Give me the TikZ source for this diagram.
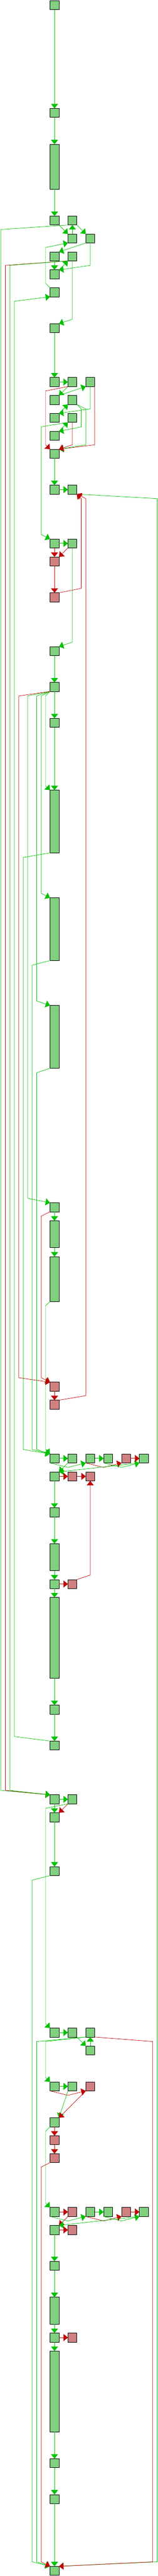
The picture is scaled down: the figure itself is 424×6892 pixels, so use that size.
\documentclass[tikz,border=0pt]{standalone}
\usepackage{tikz}
\usetikzlibrary{arrows.meta}
\usetikzlibrary{calc}
\definecolor{CFG_gruen_1}{HTML}{00C000}
\definecolor{CFG_gruen_5}{HTML}{80D080}
\definecolor{CFG_rot_1}{HTML}{C00000}
\definecolor{CFG_rot_5}{HTML}{D08080}

\begin{document}
\begin{tikzpicture}[x=1pt, y=-1pt, >={Triangle[width=19pt,length=12pt]},
gblock/.style={draw, rectangle, line width=1pt, fill=CFG_gruen_5, minimum width=24pt, minimum height=24pt, inner sep=0pt, outer sep=0pt},
rblock/.style={gblock, fill=CFG_rot_5},
gflow/.style={->, line width=1pt, CFG_gruen_1},
rflow/.style={->, line width=1pt, CFG_rot_1}]
%\draw[step=48pt, very thin, red] (0,0) grid (424,6892);
\useasboundingbox (0,0) rectangle (424,6892);

\node[gblock] (bb0_0) at (146.5,14) {};
\node[gblock] (bb6_0) at (146.5,14+48*6) {};
\node[gblock, minimum height=120pt] (bb8_0) at (146.5,14+48*9) {};
\node[gblock] (bb12_0) at (146.5,14+48*12) {};
\node[gblock] (bb12_1) at (146.5+48,14+48*12) {};
\node[gblock] (bb13_1) at (146.5+48,14+48*13) {};
\node[gblock] (bb13_2) at (146.5+48*2,14+48*13) {};
\node[gblock] (bb14_0) at (146.5,14+48*14) {};
\node[gblock] (bb14_1) at (146.5+48,14+48*14) {};
\node[gblock] (bb15_0) at (146.5,14+48*15) {};
\node[gblock] (bb16_0) at (146.5,14+48*16) {};
\node[gblock] (bb18_0) at (146.5,14+48*18) {};

\node[gblock] (bb21_0) at (146.5,14+48*21) {};
\node[gblock] (bb21_1) at (146.5+48,14+48*21) {};
\node[gblock] (bb21_2) at (146.5+48*2,14+48*21) {};
\node[gblock] (bb22_0) at (146.5,14+48*22) {};
\node[gblock] (bb22_1) at (146.5+48,14+48*22) {};
\node[gblock] (bb23_0) at (146.5,14+48*23) {};
\node[gblock] (bb23_1) at (146.5+48,14+48*23) {};
\node[gblock] (bb24_0) at (146.5,14+48*24) {};
\node[gblock] (bb25_0) at (146.5,14+48*25) {};
\node[gblock] (bb27_0) at (146.5,14+48*27) {};
\node[gblock] (bb27_1) at (146.5+48,14+48*27) {};
\node[gblock] (bb30_0) at (146.5,14+48*30) {};
\node[gblock] (bb30_1) at (146.5+48,14+48*30) {};
\node[rblock] (bb31_0) at (146.5,14+48*31) {};
\node[rblock] (bb33_0) at (146.5,14+48*33) {};
\node[gblock] (bb36_0) at (146.5,14+48*36) {};
\node[gblock] (bb38_0) at (146.5,14+48*38) {};
\node[gblock] (bb40_0) at (146.5,14+48*40) {};

\node[gblock, minimum height=168pt] (bb44_0) at (146.5,14+48*45.5) {};
\node[gblock, minimum height=168pt] (bb50_0) at (146.5,14+48*51.5) {};
\node[gblock, minimum height=168pt] (bb56_0) at (146.5,14+48*57.5) {};
\node[gblock] (bb67_0) at (146.5,14+48*67) {};
\node[gblock, minimum height=72pt] (bb68_0) at (146.5,14+48*68.5) {};
\node[gblock, minimum height=120pt] (bb70_0) at (146.5,14+48*71) {};
\node[rblock] (bb77_0) at (146.5,14+48*77) {};
\node[rblock] (bb78_0) at (146.5,14+48*78) {};

\node[gblock] (bb81_0) at (146.5,14+48*81) {};
\node[gblock] (bb81_1) at (146.5+48,14+48*81) {};
\node[gblock] (bb81_2) at (146.5+48*2,14+48*81) {};
\node[gblock] (bb81_3) at (146.5+48*3,14+48*81) {};
\node[rblock] (bb81_4) at (146.5+48*4,14+48*81) {};
\node[gblock] (bb81_5) at (146.5+48*5,14+48*81) {};
\node[gblock] (bb82_0) at (146.5,14+48*82) {};
\node[rblock] (bb82_1) at (146.5+48,14+48*82) {};
\node[rblock] (bb82_2) at (146.5+48*2,14+48*82) {};
\node[gblock] (bb84_0) at (146.5,14+48*84) {};
\node[gblock, minimum height=72pt] (bb86_0) at (146.5,14+48*86.5) {};
\node[gblock] (bb88_0) at (146.5,14+48*88) {};
\node[rblock] (bb88_1) at (146.5+48,14+48*88) {};
\node[gblock, minimum height=216pt] (bb89_0) at (146.5,14+48*91) {};
\node[gblock] (bb95_0) at (146.5,14+48*95) {};
\node[gblock] (bb97_0) at (146.5,14+48*97) {};

\node[gblock] (bb100_0) at (146.5,14+48*100) {};
\node[gblock] (bb100_1) at (146.5+48,14+48*100) {};
\node[gblock] (bb101_0) at (146.5,14+48*101) {};
\node[gblock] (bb104_0) at (146.5,14+48*104) {};
\node[gblock] (bb113_0) at (146.5,14+48*113) {};
\node[gblock] (bb113_1) at (146.5+48,14+48*113) {};
\node[gblock] (bb113_2) at (146.5+48*2,14+48*113) {};
\node[gblock] (bb114_2) at (146.5+48*2,14+48*114) {};
\node[gblock] (bb116_0) at (146.5,14+48*116) {};
\node[gblock] (bb116_1) at (146.5+48,14+48*116) {};
\node[rblock] (bb116_2) at (146.5+48*2,14+48*116) {};
\node[gblock] (bb118_0) at (146.5,14+48*118) {};
\node[rblock] (bb119_0) at (146.5,14+48*119) {};
\node[rblock] (bb120_0) at (146.5,14+48*120) {};

\node[gblock] (bb123_0) at (146.5,14+48*123) {};
\node[rblock] (bb123_1) at (146.5+48,14+48*123) {};
\node[gblock] (bb123_2) at (146.5+48*2,14+48*123) {};
\node[gblock] (bb123_3) at (146.5+48*3,14+48*123) {};
\node[rblock] (bb123_4) at (146.5+48*4,14+48*123) {};
\node[gblock] (bb123_5) at (146.5+48*5,14+48*123) {};
\node[gblock] (bb124_0) at (146.5,14+48*124) {};
\node[rblock] (bb124_1) at (146.5+48,14+48*124) {};
\node[gblock] (bb126_0) at (146.5,14+48*126) {};
\node[gblock, minimum height=72pt] (bb128_0) at (146.5,14+48*128.5) {};
\node[gblock] (bb130_0) at (146.5,14+48*130) {};
\node[rblock] (bb130_1) at (146.5+48,14+48*130) {};
\node[gblock, minimum height=216pt] (bb131_0) at (146.5,14+48*133) {};
\node[gblock] (bb137_0) at (146.5,14+48*137) {};
\node[gblock] (bb139_0) at (146.5,14+48*139) {};
\node[gblock] (bb143_0) at (146.5,14+48*143) {};

\draw[gflow] (bb0_0) -- (bb6_0);
\draw[gflow] (bb6_0) -- (bb8_0);
\draw[gflow] (bb8_0) -- (bb12_0);
\draw[gflow] (bb12_0.south east) -- (bb13_1.north west);
\draw[gflow] (bb13_1) -- (bb12_1);
\draw[gflow] (bb12_1.south east) -- (bb13_2.north west);
\draw[gflow] (bb12_1.south west) -- ($ (bb12_1.south west) + (-180,12) $) -- ($ (bb100_0.north west) + (-132,-12) $) -- (bb100_0.north west);
\draw[gflow] (bb13_2.south west) -- (bb14_0.north east);
\draw[gflow] (bb13_2.south) -- ($ (bb15_0.north east) + (84,-12) $) -- (bb15_0.north east);
\draw[gflow] (bb14_0) -- (bb15_0);
\draw[gflow] (bb15_0.north east) -- (bb14_1.south west);
\draw[gflow] (bb14_1.south) -- ($ (bb18_0.north east) + (36,-12) $) -- (bb18_0.north east);
\draw[rflow] (bb14_1.south west) -- ($ (bb14_1.south west) + (-168,12) $) -- ($ (bb100_0.north west) + (-120,-12) $) -- (bb100_0.north west);
\draw[gflow] (bb14_1.south west) -- ($ (bb14_1.south west) + (-156,12) $) -- ($ (bb100_0.north west) + (-108,-12) $) -- (bb100_0.north west);
\draw[gflow] (bb16_0.north west) -- ($ (bb16_0.north west) + (-12,-12) $) -- ($ (bb13_1.south west) + (-60,12) $) -- (bb13_1.south west);

\draw[gflow] (bb18_0) -- (bb21_0);
\draw[gflow] (bb21_0) -- (bb21_1);
\draw[gflow] (bb21_1.south west) -- (bb22_0.north east);
\draw[rflow] (bb21_1.south west) -- ($ (bb21_1.south west) + (-60,12) $) -- ($ (bb25_0.north west) + (-12,-12) $) -- (bb25_0.north west);
\draw[gflow] (bb22_0.north east) -- (bb21_2.south west);
\draw[gflow] (bb21_2.south) -- ($ (bb23_0.north east) + (84,-12) $) -- (bb23_0.north east);
\draw[rflow] (bb21_2.south east) -- ($ (bb25_0.north east) + (96,-12) $) -- (bb25_0.north east);
\draw[gflow] (bb23_0.north east) -- (bb22_1.south west);
\draw[gflow] (bb22_1.south east) -- ($ (bb22_1.south east) + (12,12) $) -- ($ (bb24_0.north east) + (60,-12) $) -- (bb24_0.north east);
\draw[gflow] (bb22_1.south east) -- ($ (bb22_1.south east) + (24,12) $) -- ($ (bb25_0.north east) + (72,-12) $) -- (bb25_0.north east);
\draw[gflow] (bb24_0.north east) -- (bb23_1.south west);
\draw[rflow] (bb23_1.south) -- ($ (bb25_0.north east) + (36,-12) $) -- (bb25_0.north east);
\draw[gflow] (bb23_1.south west) -- ($ (bb23_1.south west) + (-72,12) $) -- ($ (bb30_0.north west) + (-24,-12) $) -- (bb30_0.north west);
\draw[gflow] (bb25_0) -- (bb27_0);
\draw[gflow] (bb27_0) -- (bb27_1);
\draw[gflow] (bb27_1.south east) -- ($ (bb27_1.south east) + (216,12) $) -- ($ (bb143_0.north east) + (264,-12) $) -- (bb143_0.north east);

\draw[gflow] (bb30_0) -- (bb30_1);
\draw[rflow] (bb30_0) -- (bb31_0);
\draw[rflow] (bb30_1.south west) -- (bb31_0.north east);
\draw[gflow] (bb30_1.south) -- ($ (bb36_0.north east) + (36,-12) $) -- (bb36_0.north east);
\draw[rflow] (bb31_0) -- (bb33_0);
\draw[rflow] (bb33_0.north east) -- ($ (bb33_0.north east) + (60,-12) $) -- ($ (bb27_1.south east) + (12,12) $) -- (bb27_1.south east);
\draw[gflow] (bb36_0) -- (bb38_0);
\draw[gflow] (bb38_0) -- (bb40_0);
\draw[gflow] (bb38_0.south west) -- ($ (bb38_0.south west) + (-12,12) $) -- ($ (bb44_0.north west) + (-12,-12) $) -- (bb44_0.north west);
\draw[gflow] (bb38_0.south west) -- ($ (bb38_0.south west) + (-24,12) $) -- ($ (bb50_0.north west) + (-24,-12) $) -- (bb50_0.north west);
\draw[gflow] (bb38_0.south west) -- ($ (bb38_0.south west) + (-36,12) $) -- ($ (bb56_0.north west) + (-36,-12) $) -- (bb56_0.north west);
\draw[gflow] (bb38_0.south west) -- ($ (bb38_0.south west) + (-60,12) $) -- ($ (bb67_0.north west) + (-60,-12) $) -- (bb67_0.north west);
\draw[rflow] (bb38_0.south west) -- ($ (bb38_0.south west) + (-84,12) $) -- ($ (bb77_0.north west) + (-84,-12) $) -- (bb77_0.north west);
\draw[gflow] (bb40_0) -- (bb44_0);

\draw[gflow] (bb44_0.south west) -- ($ (bb44_0.south west) + (-72,12) $) -- ($ (bb81_0.north west) + (-72,-12) $) -- (bb81_0.north west);
\draw[gflow] (bb50_0.south west) -- ($ (bb50_0.south west) + (-48,12) $) -- ($ (bb81_0.north west) + (-48,-12) $) -- (bb81_0.north west);
\draw[gflow] (bb56_0.south west) -- ($ (bb56_0.south west) + (-36,12) $) -- ($ (bb81_0.north west) + (-36,-12) $) -- (bb81_0.north west);
\draw[gflow] (bb67_0) -- (bb68_0);
\draw[rflow] (bb67_0.south west) -- ($ (bb67_0.south west) + (-24,12) $) -- ($ (bb77_0.north west) + (-24,-12) $) -- (bb77_0.north west);
\draw[gflow] (bb68_0) -- (bb70_0);
\draw[gflow] (bb70_0.south west) -- ($ (bb70_0.south west) + (-12,12) $) -- ($ (bb81_0.north west) + (-12,-12) $) -- (bb81_0.north west);
\draw[rflow] (bb77_0) -- (bb78_0);
\draw[rflow] (bb78_0.north east) -- ($ (bb78_0.north east) + (72,-12) $) -- ($ (bb27_1.south east) + (24,12) $) -- (bb27_1.south east);

\draw[gflow] (bb81_0) -- (bb81_1);
\draw[gflow] (bb81_0.south west) -- ($ (bb81_2.south west) + (-48,12) $) -- (bb81_2.south west);
\draw[gflow] (bb81_1.south west) -- (bb82_0.north east);
\draw[gflow] (bb81_2) -- (bb81_3);
\draw[rflow] (bb81_2.south west) -- ($ (bb81_4.south west) + (-48,12) $) -- (bb81_4.south west);
\draw[gflow] (bb81_3.south west) -- ($ (bb81_5.south west) + (-48,12) $) -- (bb81_5.south west);
\draw[rflow] (bb81_4) -- (bb81_5);
\draw[gflow] (bb81_5.south west) -- (bb82_0.north east);
\draw[rflow] (bb82_0) -- (bb82_1);
\draw[rflow] (bb82_1) -- (bb82_2);
\draw[gflow] (bb82_0) -- (bb84_0);
\draw[gflow] (bb84_0) -- (bb86_0);
\draw[gflow] (bb86_0) -- (bb88_0);
\draw[rflow] (bb88_0) -- (bb88_1);
\draw[gflow] (bb88_0) -- (bb89_0);
\draw[rflow] (bb88_1.north east) -- ($ (bb88_1.north east) + (36,-12) $) -- (bb82_2.south);
\draw[gflow] (bb89_0) -- (bb95_0);
\draw[gflow] (bb95_0) -- (bb97_0);
\draw[gflow] (bb97_0.north west) -- ($ (bb97_0.north west) + (-96,-12) $) -- ($ (bb16_0.south west) + (-96,12) $) -- (bb16_0.south west);

\draw[gflow] (bb100_0) -- (bb100_1);
\draw[gflow] (bb100_0) -- (bb101_0);
\draw[rflow] (bb100_1.south west) -- (bb101_0.north east);
\draw[gflow] (bb100_1.south west) -- ($ (bb100_1.south west) + (-60,12) $) -- ($ (bb113_0.north west) + (-12,-12) $) -- (bb113_0.north west);
\draw[gflow] (bb101_0) -- (bb104_0);
\draw[gflow] (bb104_0.south west) -- ($ (bb104_0.south west) + (-48,12) $) -- ($ (bb143_0.north west) + (-48,-12) $) -- (bb143_0.north west);
\draw[gflow] (bb113_0) -- (bb113_1);
\draw[gflow] (bb113_1.south east) -- (bb114_2.north west);
\draw[gflow] (bb114_2) -- (bb113_2);
\draw[gflow] (bb113_2.south west) -- ($ (bb113_2.south west) + (-132,12) $) -- ($ (bb143_0.north west) + (-36,-12) $) -- (bb143_0.north west);
\draw[gflow] (bb113_2.south west) -- ($ (bb113_2.south west) + (-108,12) $) -- ($ (bb116_0.north west) + (-12,-12) $) -- (bb116_0.north west);
\draw[rflow] (bb113_2.south east) -- ($ (bb113_2.south east) + (156,12) $) -- ($ (bb143_0.north east) + (252,-12) $) -- (bb143_0.north east);
\draw[gflow] (bb116_0) -- (bb116_1);
\draw[rflow] (bb116_0.south west) -- ($ (bb116_2.south west) + (-48,12) $) -- (bb116_2.south west);
\draw[gflow] (bb116_1.south west) -- (bb118_0.north east);
\draw[rflow] (bb116_2.south west) -- (bb118_0.north east);
\draw[rflow] (bb118_0) -- (bb119_0);
\draw[gflow] (bb118_0.south west) -- ($ (bb118_0.south west) + (-12,12) $) -- ($ (bb123_0.north west) + (-12,-12) $) -- (bb123_0.north west);
\draw[rflow] (bb119_0) -- (bb120_0);
\draw[rflow] (bb120_0.south west) -- ($ (bb120_0.south west) + (-24,12) $) -- ($ (bb143_0.north west) + (-24,-12) $) -- (bb143_0.north west);

\draw[rflow] (bb123_0) -- (bb123_1);
\draw[gflow] (bb123_0.south west) -- ($ (bb123_2.south west) + (-48,12) $) -- (bb123_2.south west);
\draw[rflow] (bb123_1.south west) -- (bb124_0.north east);
\draw[gflow] (bb123_2) -- (bb123_3);
\draw[rflow] (bb123_2.south west) -- ($ (bb123_4.south west) + (-48,12) $) -- (bb123_4.south west);
\draw[gflow] (bb123_3.south west) -- ($ (bb123_5.south west) + (-48,12) $) -- (bb123_5.south west);
\draw[rflow] (bb123_4) -- (bb123_5);
\draw[gflow] (bb123_5.south west) -- (bb124_0.north east);
\draw[rflow] (bb124_0) -- (bb124_1);
\draw[gflow] (bb124_0) -- (bb126_0);
\draw[gflow] (bb126_0) -- (bb128_0);
\draw[gflow] (bb128_0) -- (bb130_0);
\draw[rflow] (bb130_0) -- (bb130_1);
\draw[gflow] (bb130_0) -- (bb131_0);
\draw[gflow] (bb131_0) -- (bb137_0);
\draw[gflow] (bb137_0) -- (bb139_0);
\draw[gflow] (bb139_0) -- (bb143_0);
\end{tikzpicture}
\end{document}
